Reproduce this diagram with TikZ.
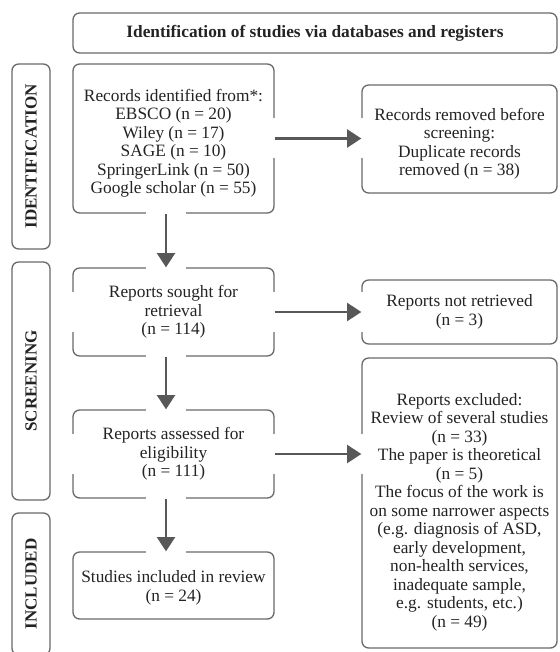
\documentclass[tikz,border=0pt]{standalone}
\usepackage{fontspec}
\setmainfont{Liberation Serif}
\usetikzlibrary{arrows.meta}
\definecolor{boxgray}{RGB}{105,105,105}
\definecolor{arrgray}{RGB}{88,88,88}
\definecolor{txtblack}{RGB}{35,35,35}

\begin{document}
\begin{tikzpicture}[x=0.6pt, y=-0.6pt, line join=round, text=txtblack,
	font=\fontsize{10.4}{11.1}\selectfont,
	box/.style={draw=boxgray, line width=0.8pt, rounded corners=4pt, align=center, inner sep=0pt},
	phase/.style={box, rotate=90, minimum height=22.8pt, font=\fontsize{10.2}{11}\bfseries\selectfont},
	halo/.style={draw=white, line width=24pt, -, shorten <=-2.4pt, shorten >=-2.4pt},
	arr/.style={draw=arrgray, line width=1.6pt, -{Triangle[length=8.6pt, width=10.8pt]}, preaction={halo}}]
	\useasboundingbox (0,0) rectangle (559,652);
	\clip (0,0) rectangle (559,652);
	
	\node[box, minimum width=290.4pt, minimum height=24pt, font=\fontsize{10.4}{11}\bfseries\selectfont] (title) at (315,33) {Identification of studies via databases and registers};
	
	% phases
	\node[phase, minimum width=111pt] (ident) at (31,156.5) {IDENTIFICATION};
	\node[phase, minimum width=142.8pt] (screen) at (31,381) {SCREENING};
	\node[phase, minimum width=85.2pt] (incl) at (31,584) {INCLUDED};
	
	\node[box, minimum width=120.6pt, minimum height=89.4pt] (rec) at (173.5,138.5) {\rule{0pt}{13pt}Records identified from*:\\EBSCO (n = 20)\\Wiley (n = 17)\\SAGE (n = 10)\\SpringerLink (n = 50)\\Google scholar (n = 55)};
	\node[box, minimum width=117pt, minimum height=64.8pt] (rem) at (459.5,139) {\rule{0pt}{13pt}Records removed before\\screening:\\Duplicate records\\removed (n = 38)};
	
	\node[box, minimum width=120.6pt, minimum height=52.8pt] (sou) at (173.5,312) {Reports sought for\\retrieval\\(n = 114)};
	\node[box, minimum width=117pt, minimum height=38.4pt] (notret) at (459.5,312) {Reports not retrieved\\(n = 3)};
	
	\node[box, minimum width=120.6pt, minimum height=52.8pt] (ass) at (173.5,454) {Reports assessed for\\eligibility\\(n = 111)};
	\node[box, minimum width=117pt, minimum height=174pt] (exc) at (459.5,503) {\rule{0pt}{18pt}Reports excluded:\\Review of several studies\\(n = 33)\\The paper is theoretical\\(n = 5)\\The focus of the work is\\on some narrower aspects\\(e.g. diagnosis of ASD,\\early development,\\non-health services,\\inadequate sample,\\e.g. students, etc.)\\(n = 49)};
	
	\node[box, minimum width=120.6pt, minimum height=40.2pt] (stu) at (173.5,585.5) {\rule{0pt}{10pt}Studies included in review\\(n = 24)};
	
	% breaks in the left borders
	\draw[halo] (sou.west) -- ([xshift=0.1pt]sou.west);
	\draw[halo] (ass.west) -- ([xshift=0.1pt]ass.west);
	
	% arrows
	\draw[arr] (rec.east) -- (rec.east -| rem.west);
	\draw[arr] (sou.east) -- (sou.east -| notret.west);
	\draw[arr] (ass.east) -- (ass.east -| exc.west);
	\draw[arr] ([xshift=-4.5pt]rec.south) -- ([xshift=-4.5pt]sou.north);
	\draw[arr] ([xshift=-4.5pt]sou.south) -- ([xshift=-4.5pt]ass.north);
	\draw[arr] ([xshift=-4.5pt]ass.south) -- ([xshift=-4.5pt]stu.north);
\end{tikzpicture}
\end{document}
